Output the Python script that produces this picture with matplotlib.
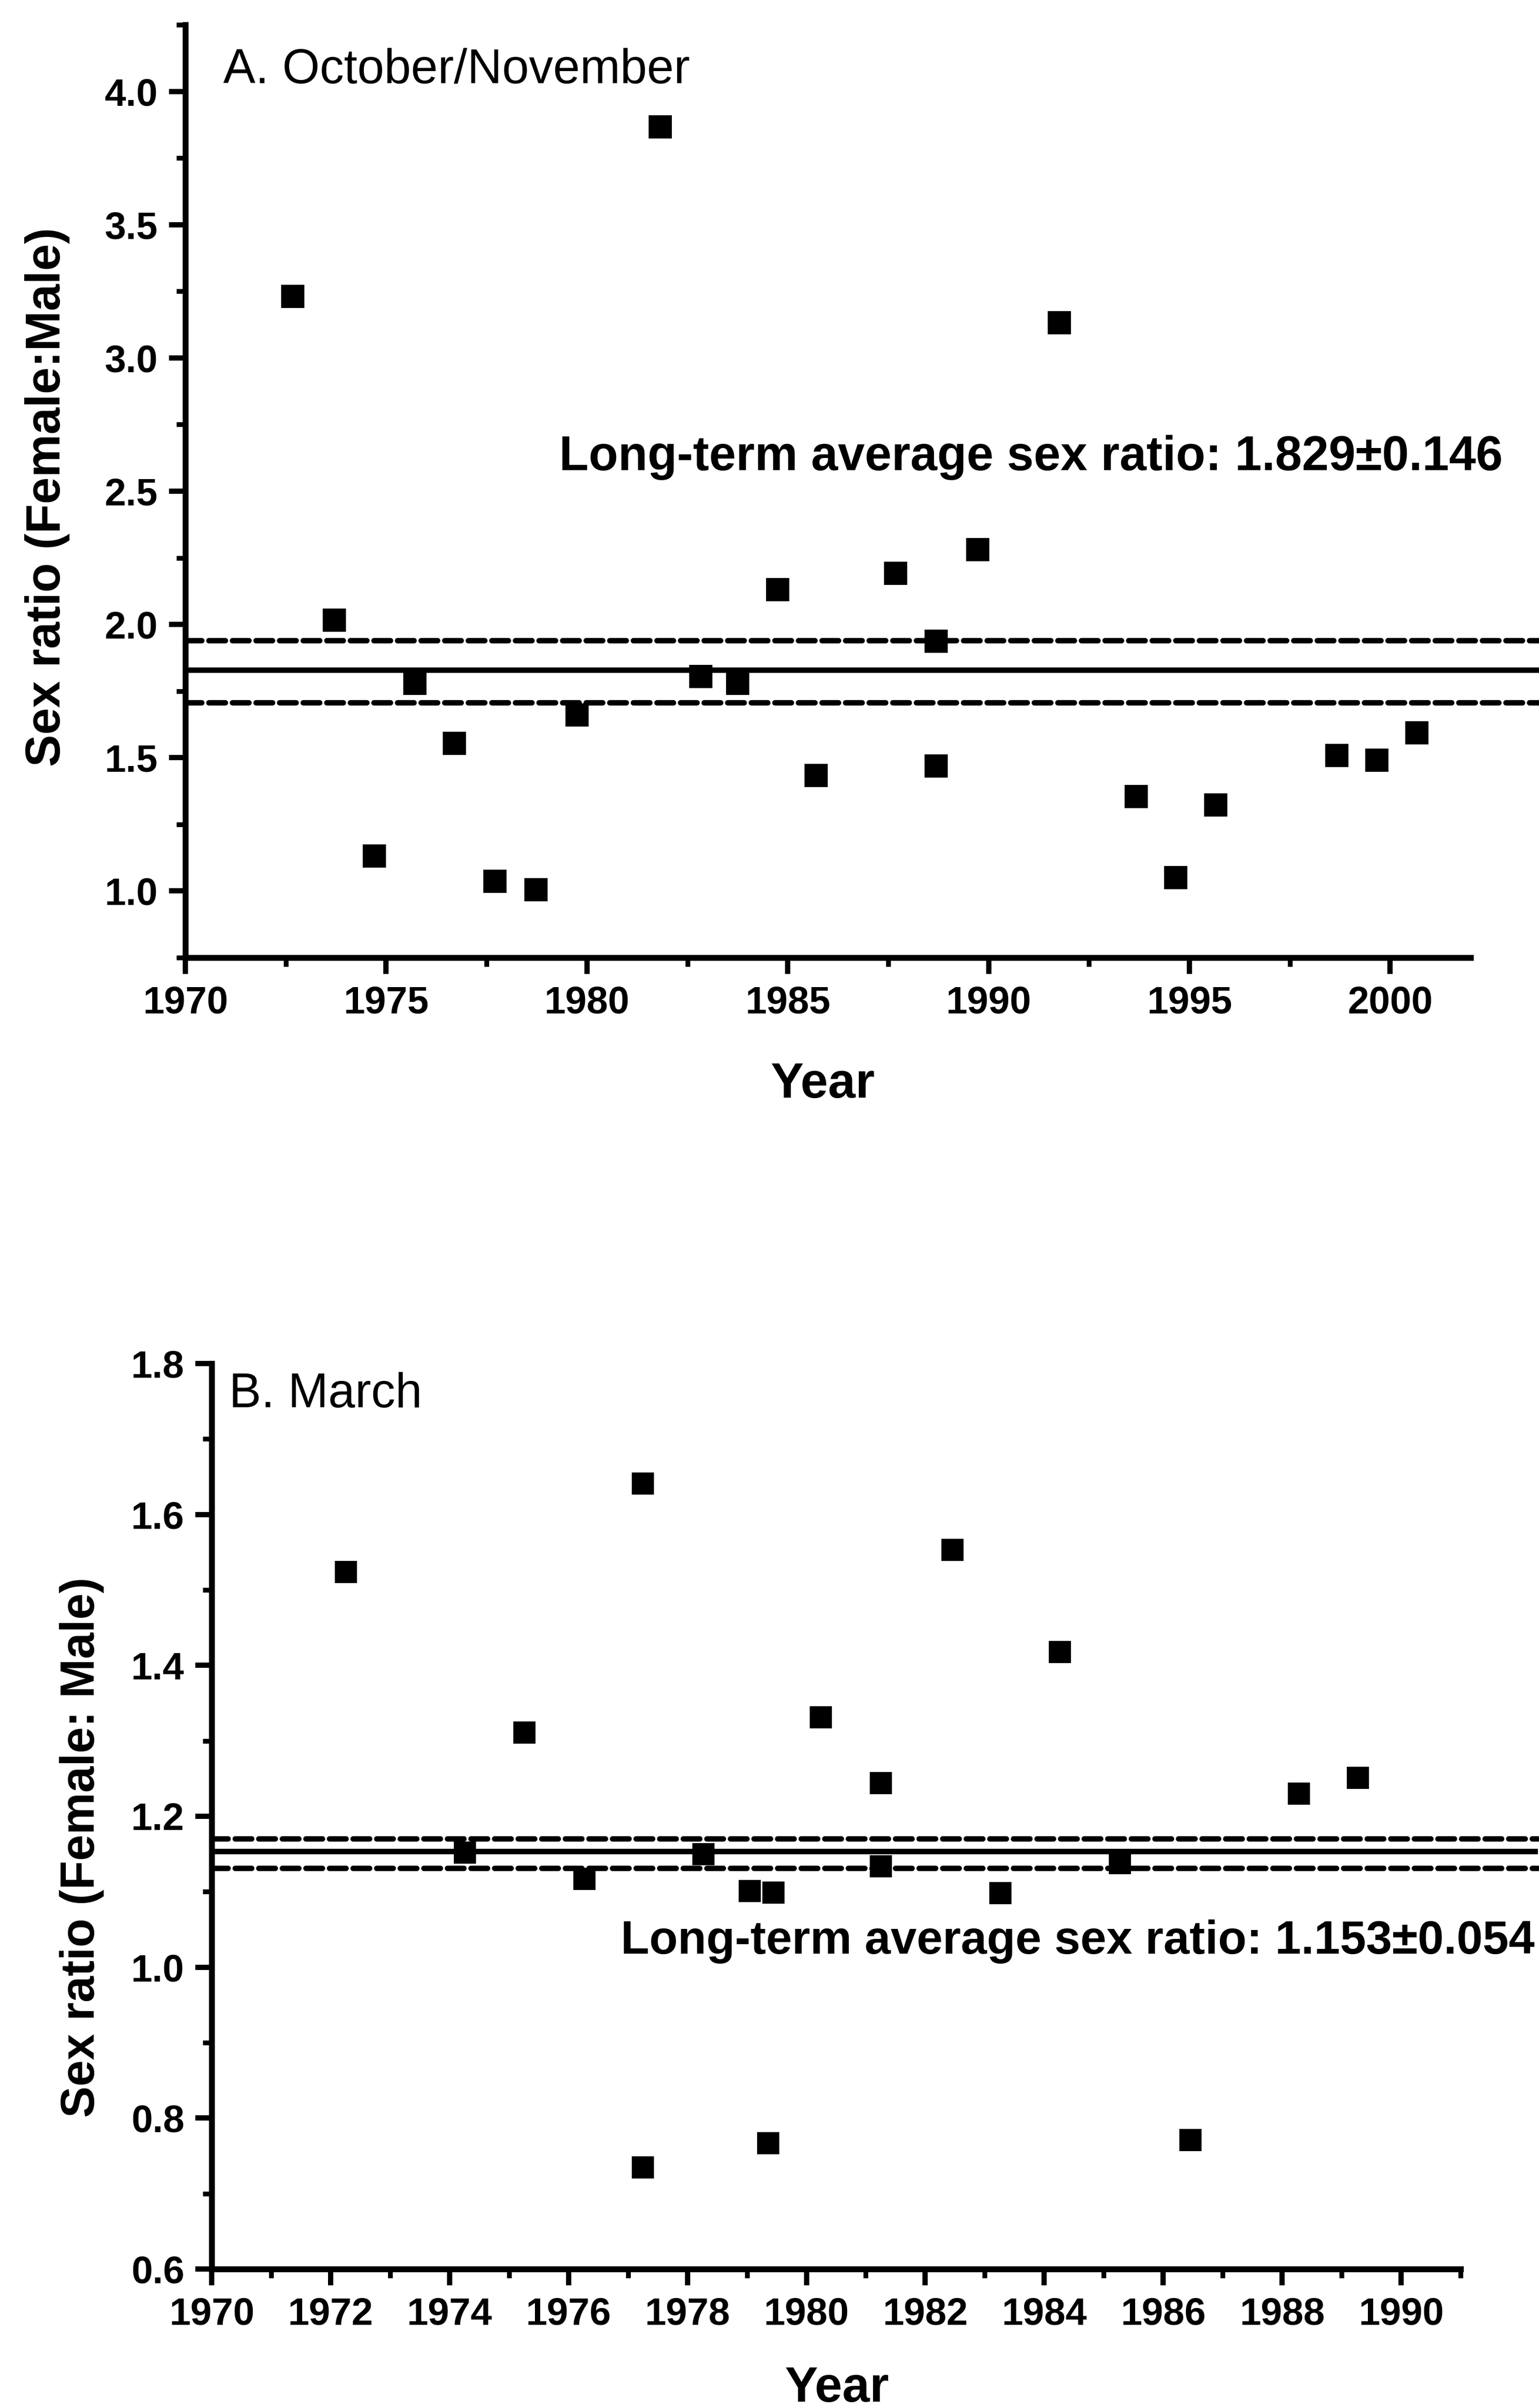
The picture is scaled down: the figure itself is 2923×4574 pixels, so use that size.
import matplotlib
matplotlib.use('Agg')
import matplotlib.pyplot as plt
from matplotlib.ticker import MultipleLocator, FormatStrFormatter

plt.rcParams['font.family'] = ['Liberation Sans', 'DejaVu Sans']
plt.rcParams['font.weight'] = 'bold'

# ---------------- data ----------------
# Panel A: October/November
a_years = [1972.67, 1973.71, 1974.70, 1975.71, 1976.70, 1977.71, 1978.73, 1979.75,
           1981.82, 1982.83, 1983.75, 1984.75, 1985.70, 1987.69, 1988.70, 1988.70,
           1989.73, 1991.76, 1993.68, 1994.66, 1995.65, 1998.67, 1999.66, 2000.66]
a_ratio = [3.23, 2.017, 1.132, 1.779, 1.554, 1.037, 1.005, 1.660,
           3.867, 1.805, 1.779, 2.131, 1.434, 2.192, 1.938, 1.469,
           2.280, 3.133, 1.355, 1.050, 1.323, 1.509, 1.490, 1.593]
a_mean = 1.829
a_band = [1.705, 1.940]
a_label = 'Long-term average sex ratio: 1.829\u00b10.146'

# Panel B: March
b_years = [1972.26, 1974.26, 1975.26, 1976.27, 1977.25, 1977.25, 1978.27, 1979.05,
           1979.36, 1979.45, 1980.24, 1981.25, 1981.25, 1982.46, 1983.26, 1984.26,
           1985.27, 1986.46, 1988.28, 1989.27]
b_ratio = [1.524, 1.152, 1.311, 1.117, 1.641, 0.735, 1.150, 1.101,
           0.767, 1.099, 1.331, 1.244, 1.134, 1.553, 1.098, 1.418,
           1.138, 0.771, 1.230, 1.251]
b_mean = 1.153
b_band = [1.131, 1.170]
b_label = 'Long-term average sex ratio: 1.153\u00b10.054'

# ---------------- figure ----------------
W, H = 2923, 4574
DPI = 300
fig = plt.figure(figsize=(W / DPI, H / DPI), dpi=DPI)


def frac_axes(x0, y0, x1, y1):
    # pixel box (left, top, right, bottom) -> figure fraction
    return [x0 / W, 1 - y1 / H, (x1 - x0) / W, (y1 - y0) / H]


axA = fig.add_axes(frac_axes(352, 47, 2793, 1819))
axB = fig.add_axes(frac_axes(402, 2590, 2774, 4310))

SPINE_LW = 2.7
LINE_LW = 2.5
MS = 9.5


def style(ax, xlim, ylim, xmaj, xmin, ymaj, ymin):
    ax.set_xlim(*xlim)
    ax.set_ylim(*ylim)
    for s in ['top', 'right']:
        ax.spines[s].set_visible(False)
    for s in ['left', 'bottom']:
        ax.spines[s].set_linewidth(SPINE_LW)
        ax.spines[s].set_capstyle('projecting')
    ax.xaxis.set_major_locator(MultipleLocator(xmaj))
    ax.xaxis.set_minor_locator(MultipleLocator(xmin))
    ax.yaxis.set_major_locator(MultipleLocator(ymaj))
    ax.yaxis.set_minor_locator(MultipleLocator(ymin))
    ax.xaxis.set_major_formatter(FormatStrFormatter('%d'))
    ax.yaxis.set_major_formatter(FormatStrFormatter('%.1f'))
    ax.tick_params(which='major', direction='out', length=7.5, width=2.4,
                   labelsize=17.5, pad=5)
    ax.tick_params(which='minor', direction='out', length=4, width=2.2)
    ax.set_facecolor('none')


style(axA, (1970, 2002), (0.75, 4.25), 5, 2.5, 0.5, 0.25)
style(axB, (1970, 1991), (0.6, 1.8), 2, 1, 0.2, 0.1)

# reference lines (extend past the axes like the original)
a_line_x = [1970, 2003.8]
b_line_x = [1970, 1992.3]
dash = (0, (3.0, 1.3))

for ax, lx, mean, band in [(axA, a_line_x, a_mean, a_band),
                           (axB, b_line_x, b_mean, b_band)]:
    ax.plot(lx, [mean, mean], '-', color='black', lw=LINE_LW, clip_on=False,
            solid_capstyle='butt', zorder=2)
    for v in band:
        ax.plot(lx, [v, v], color='black', lw=LINE_LW, linestyle=dash,
                clip_on=False, dash_capstyle='round', zorder=2)

axA.plot(a_years, a_ratio, 's', color='black', markersize=MS, clip_on=False, zorder=3)
axB.plot(b_years, b_ratio, 's', color='black', markersize=9.0, clip_on=False, zorder=3)

# panel texts
axA.text(0.0295, 0.9374, 'A. October/November', transform=axA.transAxes,
         fontsize=22, fontweight='normal', ha='left', va='baseline')
axA.text(0.2909, 0.5226, a_label, transform=axA.transAxes,
         fontsize=22, fontweight='bold', ha='left', va='baseline')
axB.text(0.0139, 0.952, 'B. March', transform=axB.transAxes,
         fontsize=22, fontweight='normal', ha='left', va='baseline')
axB.text(0.3276, 0.3483, b_label, transform=axB.transAxes,
         fontsize=21.3, fontweight='bold', ha='left', va='baseline')

# axis labels
axA.text(-0.1073, 0.4938, 'Sex ratio (Female:Male)', transform=axA.transAxes,
         rotation=90, ha='center', va='center', fontsize=22, fontweight='bold')
axB.text(-0.1041, 0.4657, 'Sex ratio (Female: Male)', transform=axB.transAxes,
         rotation=90, ha='center', va='center', fontsize=21.5, fontweight='bold')
fig.text(1562 / W, 1 - 2085 / H, 'Year', ha='center', va='baseline',
         fontsize=22.5, fontweight='bold')
fig.text(1589 / W, 1 - 4562 / H, 'Year', ha='center', va='baseline',
         fontsize=22.5, fontweight='bold')

fig.savefig('out.png', dpi=DPI, facecolor='white')
